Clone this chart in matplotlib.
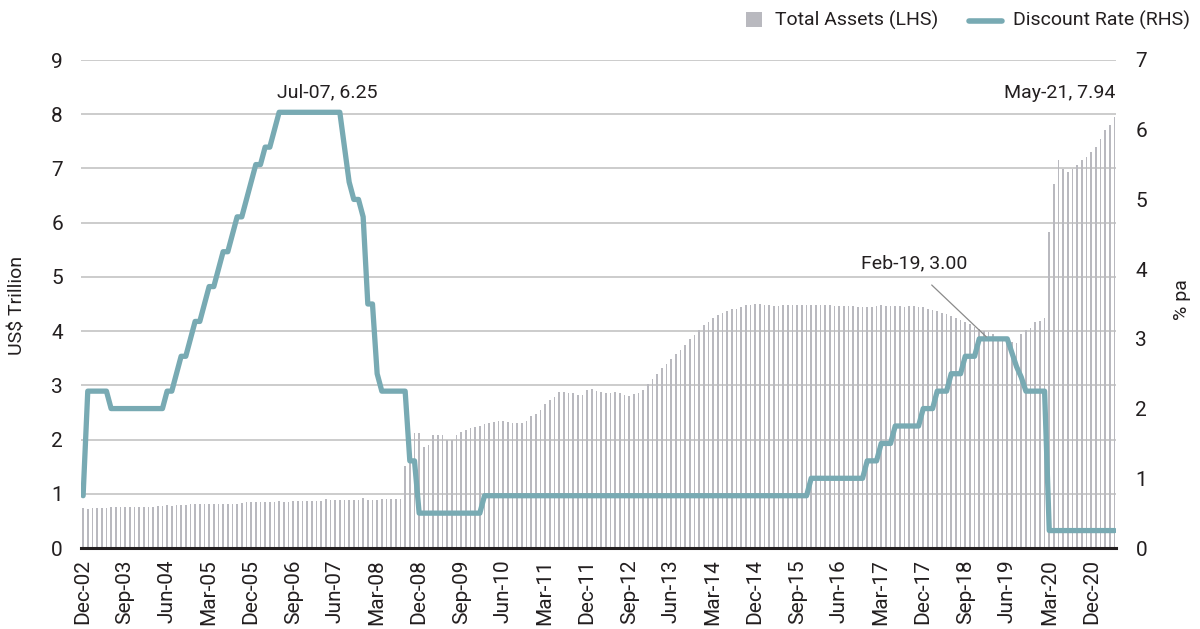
import numpy as np
import matplotlib
matplotlib.use("Agg")
import matplotlib.pyplot as plt
from matplotlib.patches import Rectangle
from matplotlib.lines import Line2D

plt.rcParams['font.family'] = ['Roboto', 'DejaVu Sans']

# Monthly data, Dec-02 .. May-21
total_assets = [
    0.73,
    0.72, 0.73, 0.73, 0.73, 0.73, 0.75, 0.75, 0.75, 0.75, 0.75, 0.75, 0.75,   # 2003
    0.75, 0.75, 0.75, 0.77, 0.77, 0.79, 0.78, 0.79, 0.79, 0.79, 0.81, 0.82,   # 2004
    0.81, 0.81, 0.81, 0.82, 0.82, 0.82, 0.82, 0.82, 0.82, 0.83, 0.84, 0.84,   # 2005
    0.84, 0.84, 0.84, 0.84, 0.84, 0.86, 0.84, 0.84, 0.86, 0.86, 0.87, 0.87,   # 2006
    0.86, 0.86, 0.86, 0.90, 0.88, 0.88, 0.88, 0.88, 0.88, 0.88, 0.88, 0.92,   # 2007
    0.88, 0.88, 0.88, 0.90, 0.90, 0.90, 0.90, 0.90, 1.52, 2.00, 2.13, 2.12,   # 2008
    1.87, 1.90, 2.08, 2.08, 2.08, 2.00, 2.00, 2.08, 2.14, 2.18, 2.21, 2.23,   # 2009
    2.25, 2.29, 2.31, 2.32, 2.34, 2.34, 2.32, 2.31, 2.31, 2.31, 2.34, 2.43,   # 2010
    2.47, 2.54, 2.65, 2.73, 2.79, 2.88, 2.88, 2.86, 2.86, 2.82, 2.82, 2.92,   # 2011
    2.93, 2.90, 2.88, 2.86, 2.86, 2.88, 2.86, 2.82, 2.80, 2.84, 2.86, 2.92,   # 2012
    3.03, 3.12, 3.21, 3.32, 3.39, 3.49, 3.58, 3.65, 3.75, 3.86, 3.93, 4.02,   # 2013
    4.11, 4.17, 4.24, 4.30, 4.34, 4.37, 4.41, 4.41, 4.45, 4.48, 4.48, 4.50,   # 2014
    4.50, 4.48, 4.48, 4.46, 4.46, 4.48, 4.48, 4.48, 4.48, 4.48, 4.48, 4.48,   # 2015
    4.48, 4.48, 4.48, 4.48, 4.46, 4.46, 4.46, 4.46, 4.46, 4.45, 4.45, 4.45,   # 2016
    4.45, 4.46, 4.48, 4.46, 4.46, 4.46, 4.46, 4.45, 4.46, 4.46, 4.45, 4.45,   # 2017
    4.41, 4.39, 4.37, 4.34, 4.32, 4.28, 4.24, 4.21, 4.17, 4.13, 4.08, 4.03,   # 2018
    4.01, 3.98, 3.95, 3.90, 3.88, 3.84, 3.80, 3.78, 3.94, 4.02, 4.06, 4.16,   # 2019
    4.18, 4.24, 5.82, 6.72, 7.16, 6.99, 6.94, 6.99, 7.07, 7.16, 7.21, 7.31,   # 2020
    7.40, 7.55, 7.71, 7.80, 7.94,                                             # 2021
]

discount_rate = [
    0.75,
    2.25, 2.25, 2.25, 2.25, 2.25, 2.00, 2.00, 2.00, 2.00, 2.00, 2.00, 2.00,   # 2003
    2.00, 2.00, 2.00, 2.00, 2.00, 2.25, 2.25, 2.50, 2.75, 2.75, 3.00, 3.25,   # 2004
    3.25, 3.50, 3.75, 3.75, 4.00, 4.25, 4.25, 4.50, 4.75, 4.75, 5.00, 5.25,   # 2005
    5.50, 5.50, 5.75, 5.75, 6.00, 6.25, 6.25, 6.25, 6.25, 6.25, 6.25, 6.25,   # 2006
    6.25, 6.25, 6.25, 6.25, 6.25, 6.25, 6.25, 5.75, 5.25, 5.00, 5.00, 4.75,   # 2007
    3.50, 3.50, 2.50, 2.25, 2.25, 2.25, 2.25, 2.25, 2.25, 1.25, 1.25, 0.50,   # 2008
    0.50, 0.50, 0.50, 0.50, 0.50, 0.50, 0.50, 0.50, 0.50, 0.50, 0.50, 0.50,   # 2009
    0.50, 0.75, 0.75, 0.75, 0.75, 0.75, 0.75, 0.75, 0.75, 0.75, 0.75, 0.75,   # 2010
    0.75, 0.75, 0.75, 0.75, 0.75, 0.75, 0.75, 0.75, 0.75, 0.75, 0.75, 0.75,   # 2011
    0.75, 0.75, 0.75, 0.75, 0.75, 0.75, 0.75, 0.75, 0.75, 0.75, 0.75, 0.75,   # 2012
    0.75, 0.75, 0.75, 0.75, 0.75, 0.75, 0.75, 0.75, 0.75, 0.75, 0.75, 0.75,   # 2013
    0.75, 0.75, 0.75, 0.75, 0.75, 0.75, 0.75, 0.75, 0.75, 0.75, 0.75, 0.75,   # 2014
    0.75, 0.75, 0.75, 0.75, 0.75, 0.75, 0.75, 0.75, 0.75, 0.75, 0.75, 1.00,   # 2015
    1.00, 1.00, 1.00, 1.00, 1.00, 1.00, 1.00, 1.00, 1.00, 1.00, 1.00, 1.25,   # 2016
    1.25, 1.25, 1.50, 1.50, 1.50, 1.75, 1.75, 1.75, 1.75, 1.75, 1.75, 2.00,   # 2017
    2.00, 2.00, 2.25, 2.25, 2.25, 2.50, 2.50, 2.50, 2.75, 2.75, 2.75, 3.00,   # 2018
    3.00, 3.00, 3.00, 3.00, 3.00, 3.00, 2.80, 2.60, 2.45, 2.25, 2.25, 2.25,   # 2019
    2.25, 2.25, 0.25, 0.25, 0.25, 0.25, 0.25, 0.25, 0.25, 0.25, 0.25, 0.25,   # 2020
    0.25, 0.25, 0.25, 0.25, 0.25,                                             # 2021
]

tick_labels = ["Dec-02", "Sep-03", "Jun-04", "Mar-05", "Dec-05", "Sep-06", "Jun-07",
               "Mar-08", "Dec-08", "Sep-09", "Jun-10", "Mar-11", "Dec-11", "Sep-12",
               "Jun-13", "Mar-14", "Dec-14", "Sep-15", "Jun-16", "Mar-17", "Dec-17",
               "Sep-18", "Jun-19", "Mar-20", "Dec-20"]
tick_step = 9

BAR_C = '#B9B9BF'
LINE_C = '#78AAB3'
TXT_C = '#231F20'
GRID_C = '#C4C4C4'
FS = 15
FS2 = 14

W, H = 1200, 629
fig = plt.figure(figsize=(W / 100, H / 100), dpi=100)
L, R, T, B = 81, 1116, 60, 548
ax = fig.add_axes([L / W, 1 - B / H, (R - L) / W, (B - T) / H])
ax2 = ax.twinx()

x = np.arange(len(total_assets))
ax.bar(x, total_assets, width=0.38, color=BAR_C, zorder=2, linewidth=0)
ax.set_ylim(0, 9)
ax.set_yticks(range(10))
ax.set_xlim(-0.45, len(total_assets) - 0.7)
ax.grid(axis='y', color=GRID_C, lw=1.2, zorder=0)
ax.set_axisbelow(True)
ax.set_xticks(x[::tick_step])
ax.set_xticklabels(tick_labels, rotation=90)

ax2.plot(x, discount_rate, color=LINE_C, lw=3.8, solid_capstyle='round', zorder=3)
ax2.set_ylim(0, 7)
ax2.set_yticks(range(8))

for a in (ax, ax2):
    for s in a.spines.values():
        s.set_visible(False)
ax.spines['bottom'].set_visible(True)
ax.spines['bottom'].set_linewidth(2.2)
ax.spines['bottom'].set_color(TXT_C)
ax.spines['bottom'].set_zorder(5)

ax.tick_params(axis='y', length=0, pad=13, labelsize=FS, labelcolor=TXT_C)
ax.tick_params(axis='x', length=0, pad=8, labelsize=FS, labelcolor=TXT_C)
ax2.tick_params(axis='y', length=0, pad=14, labelsize=FS, labelcolor=TXT_C)

# axis titles
fig.text(18 / W, 1 - 305 / H, 'US$ Trillion', rotation=90, ha='center', va='center',
         fontsize=FS2, color=TXT_C)
fig.text(1182 / W, 1 - 300 / H, '% pa', rotation=90, ha='center', va='center',
         fontsize=FS2, color=TXT_C)

# annotations
fig.text(327 / W, 1 - 92 / H, 'Jul-07, 6.25', ha='center', va='center', fontsize=FS2, color=TXT_C)
fig.text(1115 / W, 1 - 93 / H, 'May-21, 7.94', ha='right', va='center', fontsize=FS2, color=TXT_C)
fig.text(914 / W, 1 - 263 / H, 'Feb-19, 3.00', ha='center', va='center', fontsize=FS2, color=TXT_C)
ax2.annotate('', xy=(193.5, 3.03), xycoords='data',
             xytext=(931.7, H - 285), textcoords='figure pixels',
             arrowprops=dict(arrowstyle='-', color='#8A8A8A', lw=0.9, shrinkA=0, shrinkB=0))

# legend
fig.add_artist(Rectangle((746 / W, 1 - 27 / H), 16 / W, 15 / H, transform=fig.transFigure,
                         color=BAR_C, lw=0))
fig.text(775 / W, 1 - 20 / H, 'Total Assets (LHS)', ha='left', va='center', fontsize=FS2, color=TXT_C)
fig.add_artist(Line2D([969 / W, 1002 / W], [1 - 21 / H, 1 - 21 / H], transform=fig.transFigure,
                      color=LINE_C, lw=4, solid_capstyle='round'))
fig.text(1013 / W, 1 - 20 / H, 'Discount Rate (RHS)', ha='left', va='center', fontsize=FS2, color=TXT_C)

fig.savefig('out.png', dpi=100)
